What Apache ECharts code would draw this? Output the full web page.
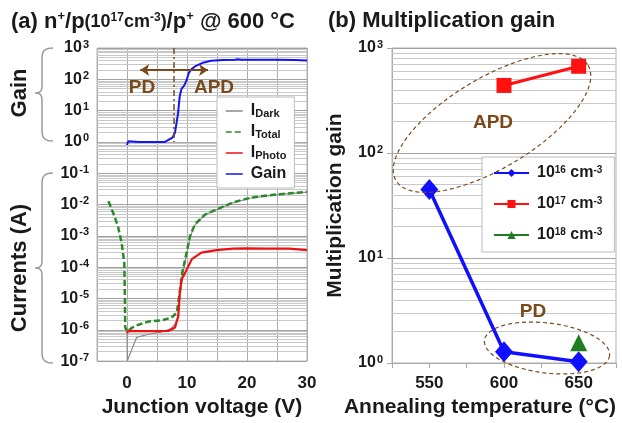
<!DOCTYPE html>
<html><head><meta charset="utf-8">
<script src="https://cdn.jsdelivr.net/npm/echarts@6/dist/echarts.min.js"></script>
<style>html,body{margin:0;padding:0;background:#fff}#c{width:622px;height:423px}</style>
</head><body><div id="c"></div>
<script>
// ---------- Panel (a): n+/p/p+ @ 600 °C ----------
const voltDark = [0, 0.05, 0.2, 0.8, 1.6, 3.6, 5.8, 7.2, 8.0, 8.5, 8.8, 9.2, 9.7, 10.5, 11.3, 13, 14.9, 17.7, 20.5, 23.3, 26, 30];
const currentDark = [9e-7, 1e-7, 1.15e-7, 2.4e-7, 5.7e-7, 7.2e-7, 8.6e-7, 1.05e-6, 1.5e-6, 2.5e-6, 1.2e-5, 5e-5, 1.5e-4, 9e-4, 2.2e-3, 4.7e-3, 6.8e-3, 0.0114, 0.0159, 0.019, 0.0215, 0.025];
const voltTotal = [-3.1, -2.3, -1.5, -0.9, -0.45, -0.35, -0.3, 0, 0.2, 1.3, 3.6, 5.8, 7.4, 8.3, 8.8, 9.2, 9.7, 10.5, 11.3, 13, 14.9, 17.7, 20.5, 23.3, 26, 30];
const currentTotal = [0.0127, 5.4e-3, 2.0e-3, 6e-4, 1.4e-4, 1e-5, 1.2e-6, 9e-7, 1.0e-6, 1.33e-6, 1.84e-6, 2.0e-6, 2.45e-6, 3.5e-6, 1.55e-5, 6.6e-5, 1.8e-4, 9.8e-4, 2.3e-3, 4.8e-3, 6.9e-3, 0.0118, 0.0163, 0.0194, 0.0219, 0.0254];
const voltPhoto = [0, 0.2, 2, 5, 6.9, 8.0, 8.55, 8.8, 9.1, 9.7, 10.8, 12.4, 14.9, 17.7, 20, 23.3, 27, 30];
const currentPhoto = [7.8e-7, 9.2e-7, 9.0e-7, 9.0e-7, 9.2e-7, 1.18e-6, 2.7e-6, 1.55e-5, 4.1e-5, 6.7e-5, 1.8e-4, 2.9e-4, 3.5e-4, 3.9e-4, 4.0e-4, 3.9e-4, 3.9e-4, 3.5e-4];
const voltGain = [0, 0.2, 2, 4, 6.3, 7.6, 8.0, 8.5, 8.8, 9.1, 9.5, 9.9, 10.3, 10.8, 11.5, 12.5, 14, 16, 18, 18.5, 19, 22, 25, 28, 30];
const gainValues = [0.8, 1.05, 1.0, 1.0, 1.0, 1.38, 2, 8, 30, 50, 62, 90, 160, 215, 270, 330, 390, 415, 420, 440, 420, 420, 420, 410, 400];
const yExponentsA = [-7, -6, -5, -4, -3, -2, -1, 0, 1, 2, 3];
const xTickLabelsA = [0, 10, 20, 30];
const breakdownVoltage = 7.8;

// ---------- Panel (b): multiplication gain ----------
const temperatures = [550, 600, 650];
const gain1e16 = [45, 1.28, 1.03];
const gain1e17 = [null, 440, 670];
const gain1e18 = [null, null, 1.56];
const xTickLabelsB = [550, 600, 650];

const FONT = '"Liberation Sans", Arial, Helvetica, sans-serif';
const BROWN = '#7b4a1a';
const TXT = '#1a1a1a';

const lg = Math.log10;
const pairsLog = (xs, ys) => xs.map((x, i) => [x, lg(ys[i])]);
const pairs = (xs, ys) => xs.map((x, i) => [x, ys[i]]).filter(p => p[1] != null);

// minor log grid lines
const minorA = [];
for (let e = yExponentsA[0]; e < yExponentsA[yExponentsA.length - 1]; e++)
  for (let k = 2; k <= 9; k++) minorA.push({ yAxis: e + lg(k) });
const minorB = [];
for (let e = 0; e < 3; e++)
  for (let k = 2; k <= 9; k++) minorB.push({ yAxis: k * Math.pow(10, e) });

// decorative shapes (braces, ellipses) sampled into polylines
function cubic(p0, p1, p2, p3, n) {
  const out = [];
  for (let i = 0; i <= n; i++) {
    const t = i / n, u = 1 - t;
    out.push([u*u*u*p0[0] + 3*u*u*t*p1[0] + 3*u*t*t*p2[0] + t*t*t*p3[0],
              u*u*u*p0[1] + 3*u*u*t*p1[1] + 3*u*t*t*p2[1] + t*t*t*p3[1]]);
  }
  return out;
}
function brace(xEnd, xSpine, xTip, yTop, yMid, yBot) {
  return [].concat(
    cubic([xEnd, yTop], [xSpine + 3, yTop], [xSpine, yTop + 3], [xSpine, yTop + 10], 8),
    cubic([xSpine, yMid - 7], [xSpine, yMid - 2], [xSpine - 2, yMid], [xTip, yMid], 8),
    cubic([xTip, yMid], [xSpine - 2, yMid], [xSpine, yMid + 2], [xSpine, yMid + 7], 8),
    cubic([xSpine, yBot - 10], [xSpine, yBot - 3], [xSpine + 3, yBot], [xEnd, yBot], 8)
  );
}
function ellipsePts(cx, cy, rx, ry, deg) {
  const a = deg * Math.PI / 180, pts = [];
  for (let i = 0; i < 120; i++) {
    const t = i / 120 * 2 * Math.PI;
    const x = rx * Math.cos(t), y = ry * Math.sin(t);
    pts.push([cx + x * Math.cos(a) + y * Math.sin(a), cy - x * Math.sin(a) + y * Math.cos(a)]);
  }
  return pts;
}

const supRich = {
  b: { fontSize: 16, fontWeight: 'bold', color: TXT, fontFamily: FONT, lineHeight: 18 },
  s: { fontSize: 11, fontWeight: 'bold', color: TXT, fontFamily: FONT, verticalAlign: 'top', padding: [0, 0, 0, 1] }
};

const legendNamesA = {
  Dark: '{i|I}{sub|Dark}', Total: '{i|I}{sub|Total}', Photo: '{i|I}{sub|Photo}', Gain: '{i|Gain}'
};
const legendNamesB = {
  n16: '{b|10}{s|16}{b| cm}{s|-3}', n17: '{b|10}{s|17}{b| cm}{s|-3}', n18: '{b|10}{s|18}{b| cm}{s|-3}'
};

const minorLine = (data) => ({
  silent: true, symbol: ['none', 'none'], label: { show: false }, z: 1,
  lineStyle: { color: '#c8c8c8', width: 1, type: 'solid' }, emphasis: { disabled: true },
  animation: false, data
});

const option = {
  animation: false,
  backgroundColor: '#fff',
  textStyle: { fontFamily: FONT },
  title: [
    {
      left: 6, top: 4,
      text: '{m|(a) n}{p|+}{m|/p}{q|(10}{qs|17}{q|cm}{qs|-3}{q|)}{m|/p}{p|+}{m| @ 600 °C}',
      textStyle: {
        rich: {
          m: { fontSize: 22, fontWeight: 'bold', color: TXT, fontFamily: FONT, lineHeight: 26 },
          p: { fontSize: 13, fontWeight: 'bold', color: TXT, fontFamily: FONT, verticalAlign: 'top', padding: [1, 0, 0, 0] },
          q: { fontSize: 18, fontWeight: 'bold', color: TXT, fontFamily: FONT },
          qs: { fontSize: 12, fontWeight: 'bold', color: TXT, fontFamily: FONT, verticalAlign: 'top', padding: [3, 0, 0, 0] }
        }
      }
    },
    {
      left: 323, top: 5, text: '(b) Multiplication gain',
      textStyle: { fontSize: 22, fontWeight: 'bold', color: TXT, fontFamily: FONT }
    }
  ],
  grid: [
    { left: 97, right: 315, top: 48, bottom: 61, show: true, borderColor: '#b0b0b0', borderWidth: 1 },
    { left: 392, right: 6, top: 48, bottom: 60, show: true, borderColor: '#b0b0b0', borderWidth: 1 }
  ],
  xAxis: [
    {
      gridIndex: 0, type: 'value', min: -5, max: 30, interval: 5,
      name: 'Junction voltage (V)', nameLocation: 'middle', nameGap: 32,
      nameTextStyle: { fontSize: 21, fontWeight: 'bold', color: TXT, fontFamily: FONT },
      axisLine: { show: true, lineStyle: { color: '#aaa' } },
      axisTick: { show: true, length: 5, lineStyle: { color: '#aaa' } },
      axisLabel: {
        margin: 14, fontSize: 17, fontWeight: 'bold', color: TXT, fontFamily: FONT,
        formatter: v => xTickLabelsA.includes(v) ? String(v) : ''
      },
      splitLine: { show: true, lineStyle: { color: '#ababab', width: 1 } }
    },
    {
      gridIndex: 1, type: 'value', min: 525, max: 675, interval: 25,
      name: 'Annealing temperature (°C)', nameLocation: 'middle', nameGap: 29,
      nameTextStyle: { fontSize: 21, fontWeight: 'bold', color: TXT, fontFamily: FONT, padding: [0, 48, 0, 0] },
      axisLine: { show: true, lineStyle: { color: '#aaa' } },
      axisTick: { show: true, length: 5, lineStyle: { color: '#aaa' } },
      axisLabel: {
        margin: 12, fontSize: 17, fontWeight: 'bold', color: TXT, fontFamily: FONT,
        formatter: v => xTickLabelsB.includes(v) ? String(v) : ''
      },
      splitLine: { show: false }
    }
  ],
  yAxis: [
    {
      gridIndex: 0, type: 'value', min: yExponentsA[0], max: yExponentsA[yExponentsA.length - 1], interval: 1,
      axisLine: { show: true, lineStyle: { color: '#aaa' } },
      axisTick: { show: true, length: 4, lineStyle: { color: '#aaa' } },
      axisLabel: { margin: 8, formatter: v => '{b|10}{s|' + v + '}', rich: supRich },
      splitLine: { show: true, lineStyle: { color: '#a0a0a0', width: 1 } }
    },
    {
      gridIndex: 1, type: 'log', logBase: 10, min: 1, max: 1000, splitNumber: 3,
      name: 'Multiplication gain', nameLocation: 'middle', nameGap: 46,
      nameTextStyle: { fontSize: 21, fontWeight: 'bold', color: TXT, fontFamily: FONT },
      axisLine: { show: true, lineStyle: { color: '#aaa' } },
      axisTick: { show: true, length: 5, lineStyle: { color: '#aaa' } },
      axisLabel: { margin: 9, formatter: v => '{b|10}{s|' + Math.round(lg(v)) + '}', rich: supRich },
      splitLine: { show: true, lineStyle: { color: '#a0a0a0', width: 1 } }
    }
  ],
  legend: [
    {
      orient: 'vertical', left: 217, top: 97, padding: [6, 8, 6, 8], itemGap: 5,
      itemWidth: 17, itemHeight: 10, backgroundColor: '#fff', borderColor: '#bbb', borderWidth: 1,
      itemStyle: { opacity: 0 },
      lineStyle: { width: 1.5 },
      data: ['Dark', 'Total', 'Photo', 'Gain'],
      formatter: n => legendNamesA[n],
      textStyle: {
        padding: [0, 0, 0, 3],
        rich: {
          i: { fontSize: 16, fontWeight: 'bold', color: TXT, fontFamily: FONT, lineHeight: 16 },
          sub: { fontSize: 11, fontWeight: 'bold', color: TXT, fontFamily: FONT, verticalAlign: 'bottom' }
        }
      }
    },
    {
      orient: 'vertical', left: 482, top: 157, padding: [8, 12, 9, 11], itemGap: 15,
      itemWidth: 35, itemHeight: 10, backgroundColor: '#fff', borderColor: '#bbb', borderWidth: 1,
      data: ['n16', 'n17', 'n18'],
      formatter: n => legendNamesB[n],
      textStyle: {
        padding: [0, 0, 0, 3],
        rich: {
          b: { fontSize: 16, fontWeight: 'bold', color: TXT, fontFamily: FONT, lineHeight: 16 },
          s: { fontSize: 10, fontWeight: 'bold', color: TXT, fontFamily: FONT, verticalAlign: 'top' }
        }
      }
    }
  ],
  series: [
    {
      name: 'Dark', type: 'line', xAxisIndex: 0, yAxisIndex: 0, data: pairsLog(voltDark, currentDark),
      symbol: 'none', color: '#8a8a8a', lineStyle: { width: 1.2, color: '#8a8a8a' },
      markLine: minorLine(minorA)
    },
    {
      name: 'Total', type: 'line', xAxisIndex: 0, yAxisIndex: 0, data: pairsLog(voltTotal, currentTotal),
      symbol: 'none', color: '#2a8a2a', lineStyle: { width: 2.5, color: '#2a8a2a', type: [6, 3] }
    },
    {
      name: 'Photo', type: 'line', xAxisIndex: 0, yAxisIndex: 0, data: pairsLog(voltPhoto, currentPhoto),
      symbol: 'none', color: '#ee1111', lineStyle: { width: 2.2, color: '#ee1111' }
    },
    {
      name: 'Gain', type: 'line', xAxisIndex: 0, yAxisIndex: 0, data: pairsLog(voltGain, gainValues),
      symbol: 'none', color: '#1515f0', lineStyle: { width: 2, color: '#1515f0' },
      markLine: {
        silent: true, symbol: ['none', 'none'], label: { show: false }, animation: false,
        emphasis: { disabled: true },
        data: [
          [{ coord: [breakdownVoltage, 3], lineStyle: { color: BROWN, width: 1.5, type: [6, 3, 2, 3] } },
           { coord: [breakdownVoltage, 0] }],
          [{ coord: [2.2, lg(200)], symbol: 'arrow', symbolSize: 9, lineStyle: { color: BROWN, width: 2, type: 'solid' } },
           { coord: [13.5, lg(200)], symbol: 'arrow', symbolSize: 9 }]
        ]
      }
    },
    {
      name: 'n16', type: 'line', xAxisIndex: 1, yAxisIndex: 1, data: pairs(temperatures, gain1e16),
      symbol: 'diamond', symbolSize: [18, 21], color: '#1010ff', lineStyle: { width: 3.5, color: '#1010ff' },
      markLine: minorLine(minorB)
    },
    {
      name: 'n17', type: 'line', xAxisIndex: 1, yAxisIndex: 1, data: pairs(temperatures, gain1e17),
      symbol: 'rect', symbolSize: 15, color: '#ff1111', lineStyle: { width: 3, color: '#ff1111' }
    },
    {
      name: 'n18', type: 'line', xAxisIndex: 1, yAxisIndex: 1, data: pairs(temperatures, gain1e18),
      symbol: 'triangle', symbolSize: [17, 17], color: '#1e7d1e', lineStyle: { width: 3, color: '#1e7d1e' }
    }
  ],
  graphic: [
    { type: 'polyline', shape: { points: brace(53, 42, 35, 48, 93, 141) },
      style: { stroke: '#9a9a9a', lineWidth: 1.5, fill: null } },
    { type: 'polyline', shape: { points: brace(53, 42, 35, 173, 268, 363) },
      style: { stroke: '#9a9a9a', lineWidth: 1.5, fill: null } },
    { type: 'text', x: 20, y: 93, rotation: Math.PI / 2, z: 100,
      style: { text: 'Gain', font: 'bold 22px ' + FONT, fill: TXT, textAlign: 'center', textVerticalAlign: 'middle' } },
    { type: 'text', x: 20, y: 268, rotation: Math.PI / 2, z: 100,
      style: { text: 'Currents (A)', font: 'bold 22px ' + FONT, fill: TXT, textAlign: 'center', textVerticalAlign: 'middle' } },
    { type: 'text', x: 142, y: 88, z: 100,
      style: { text: 'PD', font: 'bold 19px ' + FONT, fill: BROWN, textAlign: 'center', textVerticalAlign: 'middle' } },
    { type: 'text', x: 214, y: 88, z: 100,
      style: { text: 'APD', font: 'bold 19px ' + FONT, fill: BROWN, textAlign: 'center', textVerticalAlign: 'middle' } },
    { type: 'polygon', shape: { points: ellipsePts(492, 123, 112, 45, 31) }, z: 10,
      style: { fill: null, stroke: BROWN, lineWidth: 1.2, lineDash: [4, 3] } },
    { type: 'polygon', shape: { points: ellipsePts(547, 348, 63, 25, -7) }, z: 10,
      style: { fill: null, stroke: BROWN, lineWidth: 1.2, lineDash: [4, 3] } },
    { type: 'text', x: 493, y: 123, z: 100,
      style: { text: 'APD', font: 'bold 19px ' + FONT, fill: BROWN, textAlign: 'center', textVerticalAlign: 'middle' } },
    { type: 'text', x: 533, y: 312, z: 100,
      style: { text: 'PD', font: 'bold 19px ' + FONT, fill: BROWN, textAlign: 'center', textVerticalAlign: 'middle' } }
  ]
};

const chart = echarts.init(document.getElementById('c'), null, { renderer: 'canvas' });
chart.setOption(option);
</script>
</body></html>
